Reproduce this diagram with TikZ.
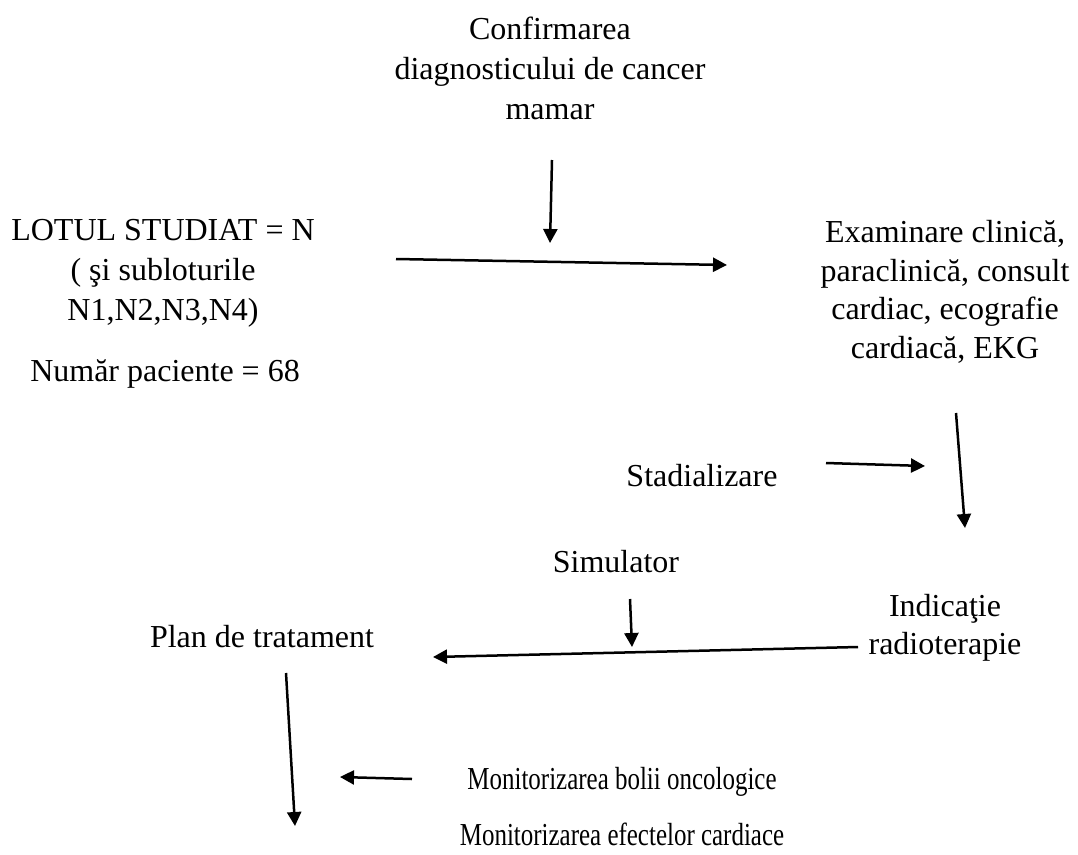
\documentclass[tikz,border=0pt]{standalone}
\usepackage{fontspec}
\setmainfont{Liberation Serif}
\usetikzlibrary{arrows.meta}
\begin{document}
\begin{tikzpicture}[x=1pt,y=-1pt,
  txt/.style={font=\fontsize{32}{38.5}\selectfont, align=center, inner sep=0pt, anchor=center},
  txtw/.style={font=\fontsize{32}{40}\selectfont, align=center, inner sep=0pt, anchor=center},
  lbl/.style={font=\fontsize{32}{38}\selectfont, inner sep=0pt, anchor=base},
  arr/.style={line width=2.5pt, -{Triangle[length=14pt,width=14pt]}}]
\useasboundingbox (0,0) rectangle (1078,854);
% nodes
\node[txtw] (conf) at (550,68) {Confirmarea\\diagnosticului de cancer\\mamar};
\node[txtw] (lot) at (163,273) {LOTUL STUDIAT = N\\( şi subloturile\\N1,N2,N3,N4)};
\node[lbl] (nr) at (165,381) {Număr paciente = 68};
\node[txt] (exam) at (945,292) {Examinare clinică,\\paraclinică, consult\\cardiac, ecografie\\cardiacă, EKG};
\node[lbl] (stad) at (702,486) {Stadializare};
\node[lbl] (sim) at (616,572) {Simulator};
\node[txt] (ind) at (945,628) {Indicaţie\\radioterapie};
\node[lbl] (plan) at (262,647) {Plan de tratament};
\node[lbl] (monb) at (622,789) {\scalebox{0.78}[1]{Monitorizarea bolii oncologice}};
\node[lbl] (monc) at (622,845) {\scalebox{0.78}[1]{Monitorizarea efectelor cardiace}};
% arrow end points
\coordinate (a1s) at (552,160); \coordinate (a1e) at (550,243);
\coordinate (a2s) at (396,259); \coordinate (a2e) at (727,265);
\coordinate (a3s) at (956,413); \coordinate (a3e) at (965,528);
\coordinate (a4s) at (826,463); \coordinate (a4e) at (925,466);
\coordinate (a5s) at (630,599); \coordinate (a5e) at (632,647);
\coordinate (a6s) at (858,647); \coordinate (a6e) at (433,657);
\coordinate (a7s) at (286,673); \coordinate (a7e) at (295,826);
\coordinate (a8s) at (412,779); \coordinate (a8e) at (340,777);
% arrows
\draw[arr] (a1s) -- (a1e);
\draw[arr] (a2s) -- (a2e);
\draw[arr] (a3s) -- (a3e);
\draw[arr] (a4s) -- (a4e);
\draw[arr] (a5s) -- (a5e);
\draw[arr] (a6s) -- (a6e);
\draw[arr] (a7s) -- (a7e);
\draw[arr] (a8s) -- (a8e);
\end{tikzpicture}
\end{document}
